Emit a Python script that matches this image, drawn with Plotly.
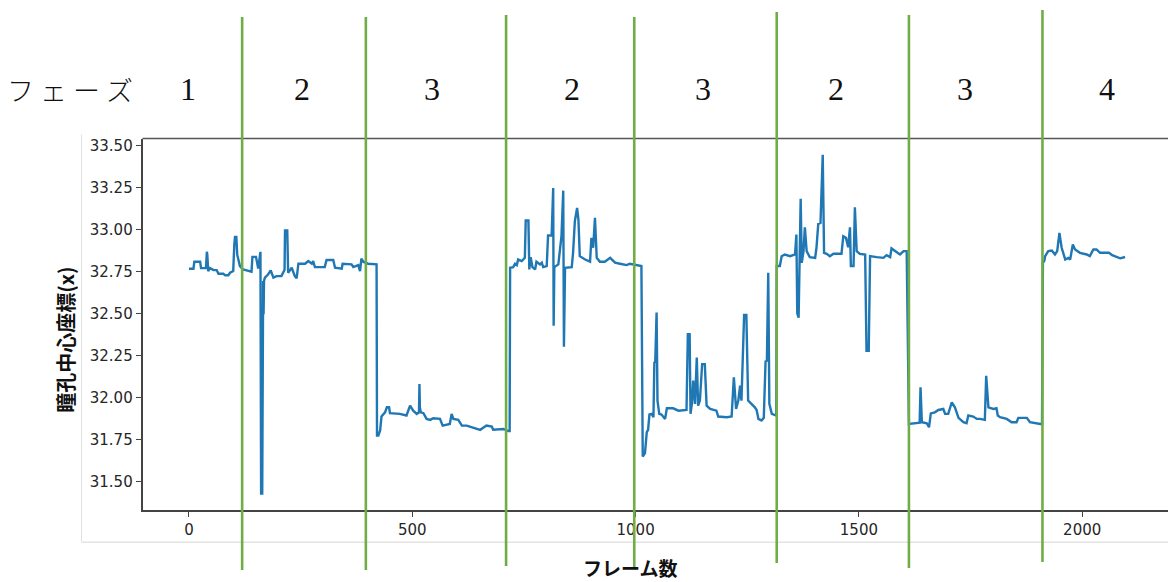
import plotly.graph_objects as go

# ---------------- data ----------------
frames = [
    0, 10, 12, 25, 27, 38, 40, 41, 43, 47, 55, 62, 66, 77, 81, 88, 92, 99, 101.5, 103, 106, 108,
    114, 121, 129, 140, 142, 150, 155, 159, 160, 161.5, 164, 166, 167, 168, 170, 177, 183, 189,
    196, 207, 214, 215, 220, 222, 230, 237, 241, 245, 260, 267, 275, 278, 282, 304, 308, 323, 327,
    342, 344, 364, 368, 379, 383, 386, 390, 401, 420,
    421, 424, 428, 431, 439, 443, 448, 450, 472, 487, 495, 502, 510, 515, 516, 517, 519, 525, 532,
    540, 547, 562, 568, 584, 588, 592, 603, 611, 622, 637, 652, 666, 678, 681, 704, 715, 718,
    719, 726, 730, 734, 737, 745, 752, 754, 760, 762, 765, 769, 775, 778, 786, 790, 793, 801, 804,
    812, 815.5, 816.5, 818, 827, 834, 838, 839.5, 842, 857, 860, 864, 869, 872, 875, 887, 898, 901,
    905, 909, 913, 920, 931, 943, 954, 965, 980, 987, 999, 1013,
    1016, 1021, 1025, 1028, 1031, 1036, 1040, 1042, 1044, 1047, 1049, 1053, 1058, 1062, 1066, 1070,
    1084, 1096, 1114, 1117, 1121, 1123, 1126, 1129, 1133, 1137, 1140, 1144, 1149, 1155, 1159, 1167,
    1174, 1181, 1185, 1204, 1215, 1220, 1225, 1230, 1234, 1237, 1243, 1248, 1252, 1260, 1267, 1271,
    1275, 1282, 1287, 1291, 1294, 1297, 1299.5, 1305, 1312, 1315,
    1316, 1323, 1327, 1334, 1346, 1357, 1360, 1362, 1365, 1367, 1369.6, 1372, 1376, 1379, 1383,
    1390, 1402, 1405, 1409, 1414, 1419, 1422, 1428, 1435, 1443, 1461, 1465, 1471, 1476, 1480, 1482,
    1488, 1491, 1495, 1502, 1514, 1517, 1522, 1525, 1540, 1555, 1562, 1570, 1573, 1581, 1592, 1600,
    1607,
    1612, 1622, 1633, 1636, 1638, 1641, 1652, 1657, 1661, 1670, 1678, 1689, 1693, 1700, 1708, 1715,
    1723, 1734, 1741, 1745, 1756, 1764, 1771, 1782, 1785, 1790, 1801, 1808, 1811, 1816, 1831, 1842,
    1853, 1857, 1876, 1883, 1906, 1910,
    1912, 1915, 1917, 1924, 1932, 1939, 1944, 1949, 1954, 1958, 1962, 1969, 1973, 1979, 1984, 1995,
    2010, 2017, 2025, 2032, 2040, 2046, 2060, 2067, 2075, 2085, 2096,
]
pupil_center_x = [
    32.766, 32.766, 32.808, 32.808, 32.770, 32.770, 32.867, 32.850, 32.752, 32.770, 32.758, 32.758,
    32.736, 32.736, 32.727, 32.727, 32.742, 32.752, 32.910, 32.956, 32.956, 32.850, 32.782, 32.762,
    32.756, 32.748, 32.837, 32.837, 32.768, 32.867, 32.867, 31.427, 31.427, 32.693, 32.495, 32.693,
    32.713, 32.732, 32.756, 32.713, 32.722, 32.722, 32.760, 32.994, 32.994, 32.742, 32.772, 32.722,
    32.709, 32.796, 32.796, 32.812, 32.796, 32.812, 32.776, 32.776, 32.818, 32.818, 32.772, 32.766,
    32.796, 32.792, 32.776, 32.788, 32.752, 32.827, 32.808, 32.796, 32.792,
    31.773, 31.773, 31.803, 31.886, 31.911, 31.941, 31.941, 31.906, 31.902, 31.892, 31.951, 31.921,
    31.902, 31.911, 32.080, 31.940, 31.911, 31.906, 31.872, 31.866, 31.876, 31.872, 31.832, 31.842,
    31.902, 31.872, 31.866, 31.832, 31.832, 31.818, 31.807, 31.832, 31.826, 31.807, 31.812, 31.799,
    31.799,
    32.772, 32.776, 32.796, 32.788, 32.821, 32.812, 32.831, 33.053, 33.053, 32.762, 32.835, 32.776,
    32.762, 32.808, 32.792, 32.802, 32.776, 32.782, 32.964, 32.964, 33.247, 32.426, 32.776, 32.792,
    32.960, 33.231, 32.301, 32.772, 32.776, 32.861, 33.049, 33.128, 33.059, 32.841, 32.821, 32.808,
    32.950, 32.891, 33.069, 32.831, 32.808, 32.808, 32.831, 32.802, 32.796, 32.788, 32.796, 32.788,
    32.782,
    31.648, 31.668, 31.793, 31.807, 31.898, 31.902, 31.882, 32.208, 32.210, 32.505, 31.981, 31.902,
    31.898, 31.886, 31.872, 31.935, 31.935, 31.921, 31.925, 32.376, 32.376, 31.902, 31.961, 32.100,
    31.961, 32.238, 31.951, 31.981, 32.198, 32.198, 31.951, 31.931, 31.925, 31.921, 31.886, 31.882,
    31.886, 32.119, 31.931, 31.981, 32.070, 31.981, 32.491, 32.491, 31.981, 31.961, 31.941, 31.925,
    31.872, 31.862, 31.878, 32.214, 32.218, 32.742, 31.961, 31.902, 31.892, 31.892,
    32.782, 32.782, 32.841, 32.851, 32.841, 32.851, 32.970, 32.500, 32.475, 32.800, 33.183, 32.802,
    32.871, 33.013, 32.871, 32.835, 32.831, 32.891, 33.033, 33.039, 33.445, 32.861, 32.855, 32.841,
    32.855, 32.855, 32.960, 32.950, 32.895, 33.013, 32.782, 32.782, 33.132, 32.871, 32.855, 32.851,
    32.277, 32.277, 32.841, 32.835, 32.831, 32.847, 32.835, 32.887, 32.871, 32.851, 32.871, 32.871,
    31.842, 31.846, 31.852, 31.850, 32.060, 31.852, 31.846, 31.822, 31.905, 31.911, 31.925, 31.931,
    31.902, 31.902, 31.971, 31.941, 31.878, 31.852, 31.846, 31.892, 31.886, 31.872, 31.872, 31.866,
    32.129, 31.941, 31.931, 31.935, 31.892, 31.882, 31.872, 31.852, 31.852, 31.878, 31.878, 31.852,
    31.842, 31.842,
    32.802, 32.812, 32.841, 32.871, 32.875, 32.851, 32.871, 32.980, 32.891, 32.851, 32.821, 32.831,
    32.821, 32.910, 32.881, 32.861, 32.851, 32.841, 32.881, 32.881, 32.861, 32.861, 32.861, 32.847,
    32.840, 32.828, 32.836,
]

phase_boundaries = [119, 396, 710, 997, 1316, 1612, 1911]
phase_labels = ["1", "2", "3", "2", "3", "2", "3", "4"]

y_ticks = [31.50, 31.75, 32.00, 32.25, 32.50, 32.75, 33.00, 33.25, 33.50]
x_ticks = [0, 500, 1000, 1500, 2000]

# ---------------- layout constants ----------------
W, H = 1168, 582
def px_x(px):  # pixel from left -> paper
    return px / W
def px_y(py):  # pixel from top -> paper
    return (H - py) / H

X_DOM = [px_x(142.5), 1.0]
Y_DOM = [px_y(510), px_y(137)]
X_RANGE = [-104.1, 2192.1]
Y_RANGE = [31.328, 33.5415]

fig = go.Figure()
fig.add_trace(go.Scatter(
    x=frames, y=pupil_center_x, mode="lines",
    line=dict(color="#1f77b4", width=2.4),
    hoverinfo="skip", showlegend=False,
))

tickfont = dict(family="DejaVu Sans", size=15, color="#262626")
fig.update_layout(
    width=W, height=H,
    margin=dict(l=0, r=0, t=0, b=0),
    paper_bgcolor="white", plot_bgcolor="white",
    showlegend=False,
    xaxis=dict(
        domain=X_DOM, range=X_RANGE, tickvals=x_ticks, ticktext=[str(v) for v in x_ticks],
        ticks="outside", ticklen=5, tickwidth=1.3, tickcolor="#444",
        showline=True, linecolor="#444", linewidth=1.6,
        showgrid=False, zeroline=False, tickfont=tickfont,
    ),
    yaxis=dict(
        domain=Y_DOM, range=Y_RANGE, tickvals=y_ticks, ticktext=[f"{v:.2f}" for v in y_ticks],
        ticks="outside", ticklen=5, tickwidth=1.3, tickcolor="#444",
        showline=True, linecolor="#444", linewidth=1.6,
        showgrid=False, zeroline=False, tickfont=tickfont,
    ),
)

shapes = []
# top spine
shapes.append(dict(type="line", xref="paper", yref="paper", x0=X_DOM[0], x1=1.0,
                   y0=Y_DOM[1], y1=Y_DOM[1], line=dict(color="#555", width=1.6)))
# light frame of the pasted chart image
shapes.append(dict(type="line", xref="paper", yref="paper", x0=px_x(81.5), x1=px_x(81.5),
                   y0=px_y(133), y1=px_y(542), line=dict(color="#e2e2e2", width=1)))
shapes.append(dict(type="line", xref="paper", yref="paper", x0=px_x(81.5), x1=1.0,
                   y0=px_y(542), y1=px_y(542), line=dict(color="#d6d6d6", width=1)))
# green phase separators (hand-drawn, slightly different extents)
tops = [15, 15, 13, 15, 10, 13, 8]
bots = [570, 570, 566, 567, 563, 568, 562]
for b, t, bt in zip(phase_boundaries, tops, bots):
    shapes.append(dict(type="line", xref="x", yref="paper", x0=b, x1=b,
                       y0=px_y(bt), y1=px_y(t), line=dict(color="#70ad47", width=2.6),
                       layer="above"))
fig.update_layout(shapes=shapes)

ann = []
label_px = [188, 302, 432, 572, 703, 836, 965, 1107]
for lab, lx in zip(phase_labels, label_px):
    ann.append(dict(text=lab, xref="paper", yref="paper", x=px_x(lx), y=px_y(87),
                    xanchor="center", yanchor="middle", showarrow=False,
                    font=dict(family="Liberation Serif", size=32, color="#111")))
ann.append(dict(text="フ ェ ー ズ", xref="paper", yref="paper", x=px_x(70), y=px_y(88),
                xanchor="center", yanchor="middle", showarrow=False,
                font=dict(family="Noto Sans CJK JP", size=27, color="#111", weight=300)))
ann.append(dict(text="<b>瞳孔中心座標(x)</b>", xref="paper", yref="paper", x=px_x(66), y=px_y(339),
                xanchor="center", yanchor="middle", showarrow=False, textangle=-90,
                font=dict(family="Noto Sans CJK JP", size=20, color="#111")))
ann.append(dict(text="<b>フレーム数</b>", xref="paper", yref="paper", x=px_x(630), y=px_y(567),
                xanchor="center", yanchor="middle", showarrow=False,
                font=dict(family="Noto Sans CJK JP", size=19, color="#111")))
fig.update_layout(annotations=ann)

fig.write_html(
    "out.html",
    config={"displayModeBar": False},
    post_script="document.body.style.margin='0';document.body.style.overflow='hidden';",
)
